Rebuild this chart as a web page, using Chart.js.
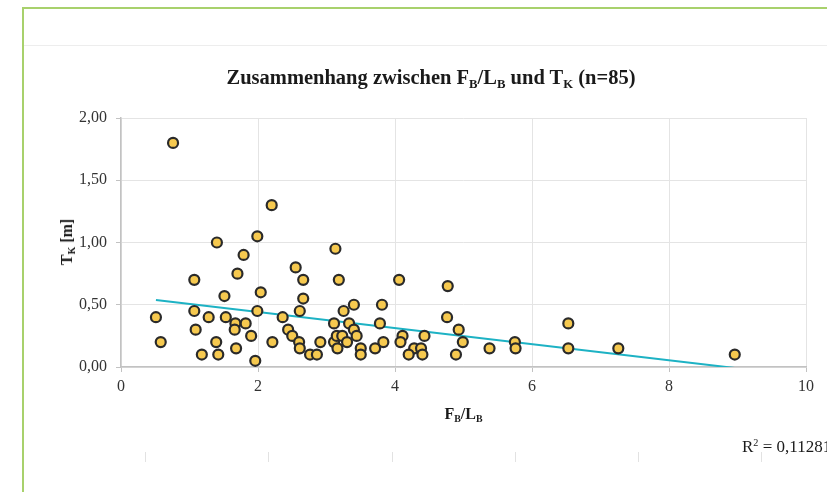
<!DOCTYPE html>
<html>
<head>
<meta charset="utf-8">
<script src="https://cdn.jsdelivr.net/npm/chart.js@4.4.0/dist/chart.umd.min.js"></script>
<style>
html,body{margin:0;padding:0;background:#fff;overflow:hidden;width:827px;height:492px;}
#wrap{position:relative;width:827px;height:492px;overflow:hidden;}
#c{position:absolute;left:0;top:0;}
.frameL{position:absolute;left:22px;top:7px;width:2px;height:485px;background:#a8d16c;}
.frameT{position:absolute;left:22px;top:7px;width:805px;height:2px;background:#a8d16c;}
.hline{position:absolute;left:24px;top:45px;width:803px;height:1px;background:#ededed;}
.mark{position:absolute;top:452px;width:1px;height:10px;background:#e2e2e2;}
.txt{position:absolute;font-family:"Liberation Serif",serif;color:#1a1a1a;white-space:nowrap;}
.title{left:81px;width:700px;top:66px;text-align:center;font-weight:bold;font-size:20.5px;}
.xt{left:121px;width:685px;top:405px;text-align:center;font-weight:bold;font-size:16px;}
.yt{left:67px;top:242px;font-weight:bold;font-size:16px;transform:translate(-50%,-50%) rotate(-90deg);}
.r2{left:742px;top:437px;font-size:17px;}
sub{font-size:0.62em;vertical-align:-0.3em;line-height:0;}
sup{font-size:0.6em;vertical-align:0.55em;line-height:0;}
</style>
</head>
<body>
<div id="wrap">
<canvas id="c" width="827" height="492"></canvas>
<div class="frameL"></div><div class="frameT"></div><div class="hline"></div>
<div class="mark" style="left:145px"></div><div class="mark" style="left:268px"></div>
<div class="mark" style="left:392px"></div><div class="mark" style="left:515px"></div>
<div class="mark" style="left:638px"></div><div class="mark" style="left:761px"></div>
<div class="txt title">Zusammenhang zwischen F<sub>B</sub>/L<sub>B</sub> und T<sub>K</sub> (n=85)</div>
<div class="txt xt">F<sub>B</sub>/L<sub>B</sub></div>
<div class="txt yt">T<sub>K</sub> [m]</div>
<div class="txt r2">R<sup>2</sup> = 0,11281</div>
</div>
<script>
// F_B/L_B values (x)
const fbLb = [
  0.76, 0.51, 0.58, 1.07, 1.07, 1.09, 1.18, 1.28, 1.40, 1.39,
  1.42, 1.51, 1.53, 1.67, 1.66, 1.68, 1.70, 1.79, 1.82, 1.90,
  1.96, 1.99, 1.99, 2.04, 2.20, 2.21, 2.36, 2.44, 2.50, 2.55,
  2.60, 2.61, 2.61, 2.66, 2.66, 2.76, 2.86, 2.91, 3.13, 3.11,
  3.11, 3.15, 3.16, 3.18, 3.25, 3.23, 3.30, 3.33, 3.40, 3.40,
  3.44, 3.50, 3.50, 3.71, 3.78, 3.81, 3.83, 4.06, 4.11, 4.08,
  4.28, 4.20, 4.38, 4.40, 4.43, 4.77, 4.76, 4.93, 4.99, 4.89,
  5.38, 5.75, 5.76, 6.53, 6.53, 7.26, 8.96
];
// T_K values in m (y)
const tk = [
  1.80, 0.40, 0.20, 0.70, 0.45, 0.30, 0.10, 0.40, 1.00, 0.20,
  0.10, 0.57, 0.40, 0.35, 0.30, 0.15, 0.75, 0.90, 0.35, 0.25,
  0.05, 1.05, 0.45, 0.60, 1.30, 0.20, 0.40, 0.30, 0.25, 0.80,
  0.20, 0.15, 0.45, 0.70, 0.55, 0.10, 0.10, 0.20, 0.95, 0.35,
  0.20, 0.25, 0.15, 0.70, 0.45, 0.25, 0.20, 0.35, 0.50, 0.30,
  0.25, 0.15, 0.10, 0.15, 0.35, 0.50, 0.20, 0.70, 0.25, 0.20,
  0.15, 0.10, 0.15, 0.10, 0.25, 0.65, 0.40, 0.30, 0.20, 0.10,
  0.15, 0.20, 0.15, 0.35, 0.15, 0.15, 0.10
];
// linear trend line end points
const trendX = [0.51, 8.96];
const trendY = [0.538, -0.008];
// tick labels
const xTickLabels = ['0', '2', '4', '6', '8', '10'];
const yTickLabels = ['0,00', '0,50', '1,00', '1,50', '2,00'];

const pts = fbLb.map((x, i) => ({x: x, y: tk[i]}));
const trend = trendX.map((x, i) => ({x: x, y: trendY[i]}));
const tickFont = {family: 'Liberation Serif', size: 16};

new Chart(document.getElementById('c'), {
  type: 'scatter',
  data: {
    datasets: [
      {
        label: 'T_K',
        data: pts,
        order: 0,
        pointRadius: 5,
        pointBorderWidth: 2.2,
        backgroundColor: '#F6C94F',
        borderColor: '#2a2a2a',
        pointHoverRadius: 5
      },
      {
        label: 'Trend',
        type: 'line',
        data: trend,
        order: 1,
        showLine: true,
        pointRadius: 0,
        borderColor: '#1DB2C4',
        borderWidth: 2,
        fill: false,
        tension: 0
      }
    ]
  },
  options: {
    responsive: false,
    animation: false,
    devicePixelRatio: 1,
    layout: {padding: {left: 0, top: 118, right: 21, bottom: 0}},
    plugins: {legend: {display: false}, title: {display: false}, tooltip: {enabled: false}},
    scales: {
      x: {
        type: 'linear', min: 0, max: 10,
        ticks: {stepSize: 2, callback: (v, i) => xTickLabels[i], font: tickFont, color: '#333', padding: 5, maxRotation: 0},
        grid: {color: '#e4e4e4', lineWidth: 1, tickColor: '#c2c2c2', tickLength: 5, drawTicks: true},
        border: {color: '#c2c2c2', width: 1.5},
        afterFit: s => { s.height = 125; }
      },
      y: {
        type: 'linear', min: 0, max: 2,
        ticks: {stepSize: 0.5, callback: (v, i) => yTickLabels[i], font: tickFont, color: '#333', padding: 9},
        grid: {color: '#e4e4e4', lineWidth: 1, tickColor: '#c2c2c2', tickLength: 5, drawTicks: true},
        border: {color: '#c2c2c2', width: 1.5},
        afterFit: s => { s.width = 121; }
      }
    }
  }
});
</script>
</body>
</html>
